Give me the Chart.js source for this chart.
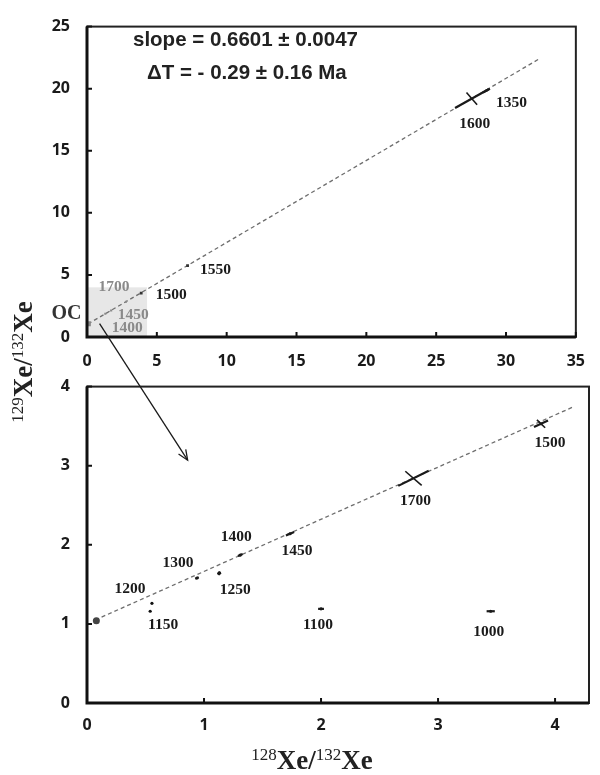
<!DOCTYPE html>
<html>
<head>
<meta charset="utf-8">
<script src="https://cdn.jsdelivr.net/npm/chart.js@4.4.1/dist/chart.umd.min.js"></script>
<style>
  body { margin: 0; background: #fff; }
  #wrap { position: relative; width: 600px; height: 775px; overflow: hidden; }
  canvas { position: absolute; left: 0; }
  #cTop { top: 0; }
  #cBot { top: 360px; }
  #arrow { position: absolute; left: 0; top: 0; }
  .ttl { position: absolute; font-family: "Liberation Serif", serif; font-weight: bold; font-size: 27px; color: #222; white-space: nowrap; line-height: 1; }
  .ttl span { font-size: 17px; font-weight: normal; vertical-align: 9px; }
  .note { position: absolute; font-family: "Liberation Sans", Arial, sans-serif; font-weight: bold; font-size: 20.5px; color: #222; white-space: nowrap; line-height: 1; }
</style>
</head>
<body>
<div id="wrap">
  <canvas id="cTop" width="600" height="372"></canvas>
  <canvas id="cBot" width="600" height="415"></canvas>
  <svg id="arrow" width="600" height="775"></svg>
  <div class="note" style="left:133px; top:29px;">slope = 0.6601 ± 0.0047</div>
  <div class="note" style="left:147px; top:62px;">ΔT = - 0.29 ± 0.16 Ma</div>
  <div class="ttl" id="yTitle" style="left:23px; top:362px; transform: translate(-50%,-50%) rotate(-90deg);"><span>129</span>Xe/<span>132</span>Xe</div>
  <div class="ttl" style="left:312px; top:760px; transform: translate(-50%,-50%);"><span>128</span>Xe/<span>132</span>Xe</div>
</div>
<script>
// ── Data: full range panel ────────────────────────────────
const topAges = ["OC", "1400", "1450", "1700", "1500", "1550", "1600", "1350"];
const topX = [0.1, 1.31, 1.73, 2.79, 3.88, 7.2, 27.55, 28.6];
const topY = [1.07, 1.87, 2.13, 2.84, 3.53, 5.75, 19.2, 19.85];
const topErrMajor = [[0, 0], [0, 0], [0, 0], [0, 0], [0, 0], [0, 0], [1.2, 0.75], [0.25, 0.15]];
const topErrMinor = [[0, 0], [0, 0], [0, 0], [0, 0], [0, 0], [0, 0], [0.38, -0.5], [0, 0]];
const fitTopX = [0.07, 32.3];
const fitTopY = [1.05, 22.35];
const topXTicks = [0, 5, 10, 15, 20, 25, 30, 35];
const topYTicks = [0, 5, 10, 15, 20, 25];
const zoomBox = [4.3, 4.0];

// ── Data: zoomed panel ────────────────────────────────────
const botAges = ["OC", "1000", "1100", "1150", "1200", "1250", "1300", "1400", "1450", "1500", "1700"];
const botX = [0.08, 3.45, 2.0, 0.54, 0.555, 1.13, 0.94, 1.31, 1.735, 3.88, 2.79];
const botY = [1.04, 1.16, 1.19, 1.16, 1.26, 1.64, 1.58, 1.87, 2.14, 3.53, 2.84];
const botErrMajor = [[0, 0], [0.035, 0], [0.025, 0], [0, 0], [0, 0], [0.015, 0.01], [0.015, 0.01], [0.02, 0.013], [0.035, 0.023], [0.06, 0.04], [0.13, 0.095]];
const botErrMinor = [[0, 0], [0, 0], [0, 0.01], [0, 0], [0, 0], [0, 0.025], [0, 0], [0, 0], [0, 0], [0.035, -0.05], [0.07, -0.09]];
const fitBotX = [0.07, 4.15];
const fitBotY = [1.05, 3.74];
const botXTicks = [0, 1, 2, 3, 4];
const botYTicks = [0, 1, 2, 3, 4];

// ── Label placement / colours (style only) ────────────────
const topLabelOffset = [[-22, -10], [22, 14], [22, 4], [-12, -15], [30, 2], [28, 4], [3, 25], [25, 12]];
const topLabelColor = ["#333", "#8a8a8a", "#8a8a8a", "#8a8a8a", "#1a1a1a", "#1a1a1a", "#1a1a1a", "#1a1a1a"];
const topPointColor = ["#8a8a8a", "#8a8a8a", "#8a8a8a", "#8a8a8a", "#333", "#333", "#222", "#222"];
const topPointRadius = [3.5, 1.5, 1.5, 1.5, 2, 2, 0, 1.5];
const botLabelOffset = [null, [-2, 21], [-3, 16], [13, 14], [-22, -14], [16, 17], [-19, -15], [-4, -18], [7, 17], [9, 19], [2, 23]];
const botPointRadius = [3.5, 1.6, 1.6, 1.6, 1.6, 1.8, 1.6, 1.6, 1.6, 1.5, 0];

const tickFont = { family: '"Open Sans", sans-serif', size: 16, weight: "bold" };

function makeScale(ticks, min, max, pad, fit) {
  return {
    type: "linear", min, max,
    grid: { display: false, drawTicks: false },
    border: { display: false },
    afterBuildTicks: (s) => { s.ticks = ticks.map((v) => ({ value: v })); },
    afterFit: fit,
    ticks: { padding: pad, color: "#1a1a1a", font: tickFont }
  };
}

// ── Panel decorations: frame, inward ticks, error crosses, labels ──
function panelPlugin(cfg) {
  return {
    id: "panel",
    beforeDatasetsDraw(chart) {
      if (!cfg.box) return;
      const { ctx, scales: { x, y } } = chart;
      ctx.save();
      ctx.fillStyle = "rgba(215,215,215,0.6)";
      const x0 = x.getPixelForValue(0), y0 = y.getPixelForValue(0);
      ctx.fillRect(x0, y.getPixelForValue(cfg.box[1]), x.getPixelForValue(cfg.box[0]) - x0, y0 - y.getPixelForValue(cfg.box[1]));
      ctx.restore();
    },
    afterDraw(chart) {
      const { ctx, chartArea: a, scales: { x, y } } = chart;
      ctx.save();
      // frame
      ctx.strokeStyle = "#222";
      ctx.lineWidth = 2;
      ctx.strokeRect(a.left, a.top, a.right - a.left, a.bottom - a.top);
      ctx.strokeStyle = "#111";
      ctx.lineWidth = 3;
      ctx.beginPath();
      ctx.moveTo(a.left, a.top);
      ctx.lineTo(a.left, a.bottom);
      ctx.lineTo(a.right, a.bottom);
      ctx.stroke();
      // inward ticks
      ctx.lineWidth = 2;
      ctx.beginPath();
      x.ticks.forEach((t) => { const px = x.getPixelForValue(t.value); ctx.moveTo(px, a.bottom); ctx.lineTo(px, a.bottom - 5); });
      y.ticks.forEach((t) => { const py = y.getPixelForValue(t.value); ctx.moveTo(a.left, py); ctx.lineTo(a.left + 5, py); });
      ctx.stroke();
      // error crosses
      ctx.strokeStyle = "#1a1a1a";
      cfg.xs.forEach((vx, i) => {
        [[cfg.major[i], 2.2], [cfg.minor[i], 1.6]].forEach(([d, w]) => {
          if (!d[0] && !d[1]) return;
          ctx.lineWidth = w;
          ctx.beginPath();
          ctx.moveTo(x.getPixelForValue(vx - d[0]), y.getPixelForValue(cfg.ys[i] - d[1]));
          ctx.lineTo(x.getPixelForValue(vx + d[0]), y.getPixelForValue(cfg.ys[i] + d[1]));
          ctx.stroke();
        });
      });
      // age labels
      ctx.textAlign = "center";
      ctx.textBaseline = "middle";
      cfg.labels.forEach((lab, i) => {
        const off = cfg.offsets[i];
        if (!off) return;
        const big = lab === "OC";
        ctx.font = `bold ${big ? 20 : 15.5}px "Liberation Serif", serif`;
        ctx.fillStyle = cfg.colors ? cfg.colors[i] : "#1a1a1a";
        ctx.fillText(lab, x.getPixelForValue(cfg.xs[i]) + off[0], y.getPixelForValue(cfg.ys[i]) + off[1]);
      });
      ctx.restore();
    }
  };
}

function fitDataset(xs, ys) {
  return {
    type: "line",
    data: xs.map((v, i) => ({ x: v, y: ys[i] })),
    borderColor: "#6e6e6e",
    borderWidth: 1.3,
    borderDash: [4, 3],
    pointRadius: 0,
    order: 2
  };
}

const commonOpts = {
  responsive: false,
  animation: false,
  devicePixelRatio: 1,
  plugins: { legend: { display: false }, tooltip: { enabled: false } }
};

const topChart = new Chart(document.getElementById("cTop"), {
  type: "scatter",
  data: {
    datasets: [
      fitDataset(fitTopX, fitTopY),
      {
        data: topX.map((v, i) => ({ x: v, y: topY[i] })),
        pointStyle: "rect",
        pointRadius: topPointRadius,
        pointBackgroundColor: topPointColor,
        pointBorderWidth: 0,
        order: 1
      }
    ]
  },
  options: {
    ...commonOpts,
    layout: { padding: { top: 12, right: 14, left: 0, bottom: 0 } },
    scales: {
      x: makeScale(topXTicks, 0, 35, 15, (s) => { s.height = 35; }),
      y: makeScale(topYTicks, 0, 25, 17, (s) => { s.width = 87; })
    }
  },
  plugins: [panelPlugin({ xs: topX, ys: topY, major: topErrMajor, minor: topErrMinor, labels: topAges, offsets: topLabelOffset, colors: topLabelColor, box: zoomBox })]
});

const botChart = new Chart(document.getElementById("cBot"), {
  type: "scatter",
  data: {
    datasets: [
      fitDataset(fitBotX, fitBotY),
      {
        data: botX.map((v, i) => ({ x: v, y: botY[i] })),
        pointRadius: botPointRadius,
        pointBackgroundColor: botAges.map((a) => (a === "OC" ? "#444" : "#111")),
        pointBorderWidth: 0,
        order: 1
      }
    ]
  },
  options: {
    ...commonOpts,
    layout: { padding: { top: 13, right: 11, left: 0, bottom: 0 } },
    scales: {
      x: makeScale(botXTicks, 0, 4.29, 13, (s) => { s.height = 72; }),
      y: makeScale(botYTicks, 0, 4, 17, (s) => { s.width = 87; })
    }
  },
  plugins: [panelPlugin({ xs: botX, ys: botY, major: botErrMajor, minor: botErrMinor, labels: botAges, offsets: botLabelOffset })]
});

// ── Zoom arrow from OC region to lower panel ──────────────
(function drawArrow() {
  const svg = document.getElementById("arrow");
  const x0 = topChart.scales.x.getPixelForValue(0.9), y0 = topChart.scales.y.getPixelForValue(1.08);
  const x1 = botChart.scales.x.getPixelForValue(0.86), y1 = 360 + botChart.scales.y.getPixelForValue(3.07);
  const ang = Math.atan2(y1 - y0, x1 - x0);
  const head = (da) => `${x1 - 11 * Math.cos(ang + da)},${y1 - 11 * Math.sin(ang + da)}`;
  svg.innerHTML =
    `<line x1="${x0}" y1="${y0}" x2="${x1}" y2="${y1}" stroke="#1a1a1a" stroke-width="1.3"/>` +
    `<polyline points="${head(0.4)} ${x1},${y1} ${head(-0.4)}" fill="none" stroke="#1a1a1a" stroke-width="1.3"/>`;
})();
</script>
</body>
</html>
